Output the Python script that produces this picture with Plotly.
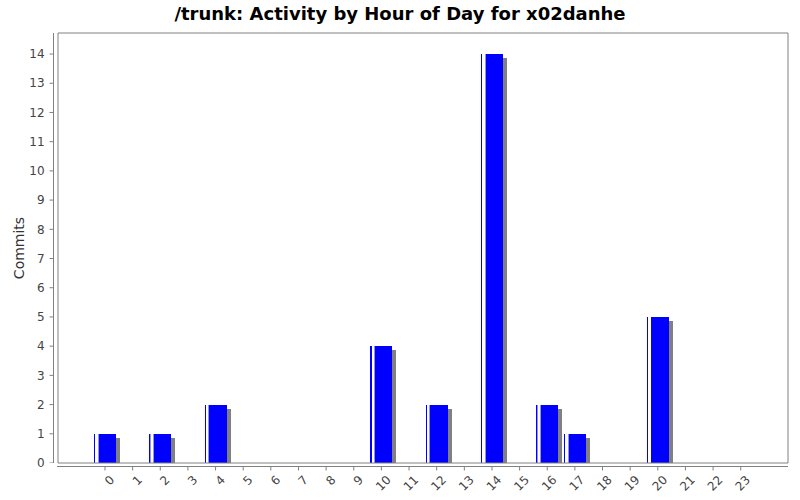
import plotly.graph_objects as go

# ---- data ----
hours = list(range(24))
hour_labels = [str(h) for h in hours]
commits = [1, 0, 1, 0, 2, 0, 0, 0, 0, 0, 4, 0, 2, 0, 14, 0, 2, 1, 0, 0, 5, 0, 0, 0]
y_ticks = list(range(0, 15))

title_text = "/trunk: Activity by Hour of Day for x02danhe"
y_title = "Commits"

# ---- geometry (pixels) ----
W, H = 800, 500
ML, MR, MT, MB = 58, 12, 33, 37
PW = W - ML - MR
PH = H - MT - MB
x_range = [-1.70, 24.71]
y_range = [0, 14.72]
px_per_cat = PW / (x_range[1] - x_range[0])
px_per_unit = PH / (y_range[1] - y_range[0])

bar_w = 0.8
shadow_dx = 4 / px_per_cat
shadow_dy = 4 / px_per_unit

xs = [h for h, c in zip(hours, commits) if c > 0]
ys = [c for c in commits if c > 0]

fig = go.Figure()
# shadow
fig.add_trace(go.Bar(x=xs, y=ys, base=[-shadow_dy] * len(ys), width=bar_w,
                     offset=-bar_w / 2 + shadow_dx,
                     marker=dict(color="#808080", line=dict(width=0)),
                     hoverinfo="skip", showlegend=False))
# main bar
fig.add_trace(go.Bar(x=xs, y=ys, width=bar_w, offset=-bar_w / 2,
                     marker=dict(color="#0000FF", line=dict(width=0)),
                     showlegend=False))
# highlight stripes
fig.add_trace(go.Bar(x=xs, y=ys, width=3.5 / px_per_cat, offset=-bar_w / 2 + 1.2 / px_per_cat,
                     marker=dict(color="#9090FF", line=dict(width=0)),
                     hoverinfo="skip", showlegend=False))
fig.add_trace(go.Bar(x=xs, y=ys, width=1.8 / px_per_cat, offset=-bar_w / 2 + 2.0 / px_per_cat,
                     marker=dict(color="#FFFFFF", line=dict(width=0)),
                     hoverinfo="skip", showlegend=False))

axis_col = "#808080"
shapes = []
# plot border
shapes.append(dict(type="rect", xref="paper", yref="paper", x0=0, x1=1, y0=0, y1=1,
                   line=dict(color=axis_col, width=1), layer="above"))
# offset axis lines
shapes.append(dict(type="line", xref="paper", yref="paper",
                   x0=-1 / PW, x1=1, y0=-3.5 / PH, y1=-3.5 / PH,
                   line=dict(color=axis_col, width=1)))
shapes.append(dict(type="line", xref="paper", yref="paper",
                   x0=-4.5 / PW, x1=-4.5 / PW, y0=0, y1=1,
                   line=dict(color=axis_col, width=1)))
# tick marks
for h in hours:
    shapes.append(dict(type="line", xref="x", yref="paper", x0=h, x1=h,
                       y0=-3.5 / PH, y1=-7.5 / PH, line=dict(color=axis_col, width=1)))
for t in y_ticks:
    shapes.append(dict(type="line", xref="paper", yref="y", x0=-4.5 / PW, x1=-8.5 / PW,
                       y0=t, y1=t, line=dict(color=axis_col, width=1)))

tick_font = dict(family="DejaVu Sans", size=12, color="#444444")

fig.update_layout(
    width=W, height=H, autosize=False,
    margin=dict(l=ML, r=MR, t=MT, b=MB, pad=0, autoexpand=False),
    paper_bgcolor="white", plot_bgcolor="white",
    barmode="overlay", bargap=0,
    shapes=shapes,
    title=dict(text=title_text, x=0.5, xanchor="center", y=1 - 14 / H, yanchor="middle",
               xref="container", automargin=False,
               font=dict(family="DejaVu Sans", size=18, color="black", weight="bold")),
    xaxis=dict(range=x_range, tickmode="array", tickvals=hours, ticktext=hour_labels,
               tickangle=-45, ticks="outside", ticklen=4, tickcolor="rgba(0,0,0,0)",
               ticklabelshift=6,
               showgrid=False, zeroline=False, showline=False, tickfont=tick_font,
               automargin=False, fixedrange=True),
    yaxis=dict(range=y_range, tickmode="array", tickvals=y_ticks,
               ticktext=[str(t) for t in y_ticks],
               ticks="outside", ticklen=10, tickcolor="rgba(0,0,0,0)",
               showgrid=False, zeroline=False, showline=False, tickfont=tick_font,
               title=dict(text=y_title, font=dict(family="DejaVu Sans", size=14, color="#333333"),
                          standoff=1),
               automargin=False, fixedrange=True),
)

fig.write_html("out.html", config={"displayModeBar": False},
               post_script="document.body.style.margin='0px';document.body.style.overflow='hidden';")
